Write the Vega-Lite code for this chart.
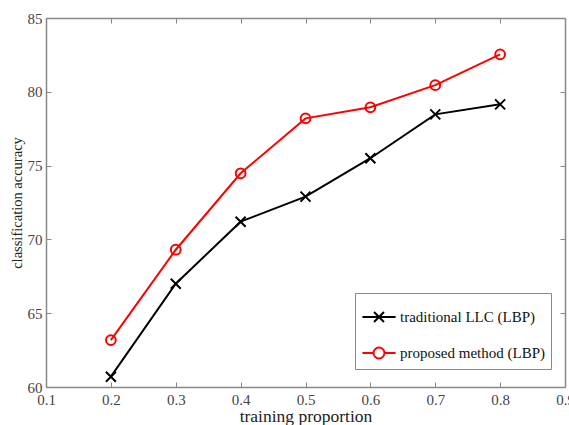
{
  "$schema": "https://vega.github.io/schema/vega-lite/v6.json",
  "width": 519,
  "height": 369,
  "autosize": {"type": "none"},
  "padding": {"left": 46, "top": 18, "right": 4, "bottom": 38},
  "background": "white",
  "config": {"view": {"stroke": null}, "font": "Liberation Serif"},
  "data": {"values": [
    {"p": 0.2, "acc": 60.7, "series": "traditional LLC (LBP)"},
    {"p": 0.3, "acc": 67.0, "series": "traditional LLC (LBP)"},
    {"p": 0.4, "acc": 71.2, "series": "traditional LLC (LBP)"},
    {"p": 0.5, "acc": 72.9, "series": "traditional LLC (LBP)"},
    {"p": 0.6, "acc": 75.5, "series": "traditional LLC (LBP)"},
    {"p": 0.7, "acc": 78.47, "series": "traditional LLC (LBP)"},
    {"p": 0.8, "acc": 79.15, "series": "traditional LLC (LBP)"},
    {"p": 0.2, "acc": 63.18, "series": "proposed method (LBP)"},
    {"p": 0.3, "acc": 69.3, "series": "proposed method (LBP)"},
    {"p": 0.4, "acc": 74.48, "series": "proposed method (LBP)"},
    {"p": 0.5, "acc": 78.2, "series": "proposed method (LBP)"},
    {"p": 0.6, "acc": 78.95, "series": "proposed method (LBP)"},
    {"p": 0.7, "acc": 80.45, "series": "proposed method (LBP)"},
    {"p": 0.8, "acc": 82.54, "series": "proposed method (LBP)"}
  ]},
  "resolve": {"axis": {"x": "independent", "y": "independent"}},
  "layer": [
    {
      "mark": {"type": "line", "strokeWidth": 2},
      "encoding": {
        "x": {"field": "p", "type": "quantitative",
          "scale": {"domain": [0.1, 0.9], "nice": false},
          "axis": {"orient": "bottom", "title": "training proportion", "values": [0.1,0.2,0.3,0.4,0.5,0.6,0.7,0.8,0.9], "format": ".1f",
            "grid": false, "tickSize": -5, "tickColor": "#888", "domainColor": "#888", "domainWidth": 1.5,
            "labelFontSize": 15, "labelColor": "#444", "labelPadding": 10, "labelFlush": false, "labelOverlap": false,
            "titleFontSize": 17.5, "titleFontWeight": "normal", "titleColor": "#222", "titlePadding": 0}},
        "y": {"field": "acc", "type": "quantitative",
          "scale": {"domain": [60, 85], "nice": false},
          "axis": {"orient": "left", "title": "classification accuracy", "values": [60,65,70,75,80,85],
            "grid": false, "tickSize": -5, "tickColor": "#888", "domainColor": "#888", "domainWidth": 1.5,
            "labelFontSize": 15, "labelColor": "#444", "labelPadding": 9, "labelFlush": false, "labelOverlap": false,
            "titleFontSize": 14.5, "titleFontWeight": "normal", "titleColor": "#222", "titlePadding": 3}},
        "color": {"field": "series", "type": "nominal",
          "scale": {"domain": ["traditional LLC (LBP)", "proposed method (LBP)"], "range": ["#000000", "#ff0000"]},
          "legend": {"title": null, "orient": "none", "legendX": 309, "legendY": 275,
            "symbolSize": 1100, "symbolStrokeWidth": 2,
            "labelFontSize": 15, "labelColor": "#111", "labelOffset": 3, "padding": 6, "rowPadding": 9,
            "strokeColor": "#888", "fillColor": "white"}}
      }
    },
    {
      "transform": [{"filter": "datum.series === 'traditional LLC (LBP)'"}],
      "mark": {"type": "point", "filled": false, "strokeWidth": 2, "size": 100, "opacity": 1, "shape": "M-1,-1L1,1M-1,1L1,-1"},
      "encoding": {
        "x": {"field": "p", "type": "quantitative",
          "scale": {"domain": [0.1, 0.9], "nice": false},
          "axis": {"orient": "top", "title": null, "labels": false, "values": [0.1,0.2,0.3,0.4,0.5,0.6,0.7,0.8,0.9],
            "grid": false, "tickSize": -5, "tickColor": "#888", "domainColor": "#888", "domainWidth": 1.5}},
        "y": {"field": "acc", "type": "quantitative",
          "scale": {"domain": [60, 85], "nice": false},
          "axis": {"orient": "right", "title": null, "labels": false, "values": [60,65,70,75,80,85],
            "grid": false, "tickSize": -5, "tickColor": "#888", "domainColor": "#888", "domainWidth": 1.5}},
        "color": {"field": "series", "type": "nominal",
          "scale": {"domain": ["traditional LLC (LBP)", "proposed method (LBP)"], "range": ["#000000", "#ff0000"]},
          "legend": {"title": null, "orient": "none", "legendX": 309, "legendY": 275,
            "symbolSize": 1100, "symbolStrokeWidth": 2,
            "labelFontSize": 15, "labelColor": "#111", "labelOffset": 3, "padding": 6, "rowPadding": 9,
            "strokeColor": "#888", "fillColor": "white"}}
      }
    },
    {
      "transform": [{"filter": "datum.series === 'proposed method (LBP)'"}],
      "mark": {"type": "point", "filled": false, "strokeWidth": 2, "size": 95, "opacity": 1, "shape": "circle"},
      "encoding": {
        "x": {"field": "p", "type": "quantitative", "scale": {"domain": [0.1, 0.9], "nice": false}, "axis": null},
        "y": {"field": "acc", "type": "quantitative", "scale": {"domain": [60, 85], "nice": false}, "axis": null},
        "color": {"field": "series", "type": "nominal",
          "scale": {"domain": ["traditional LLC (LBP)", "proposed method (LBP)"], "range": ["#000000", "#ff0000"]},
          "legend": {"title": null, "orient": "none", "legendX": 309, "legendY": 275,
            "symbolSize": 1100, "symbolStrokeWidth": 2,
            "labelFontSize": 15, "labelColor": "#111", "labelOffset": 3, "padding": 6, "rowPadding": 9,
            "strokeColor": "#888", "fillColor": "white"}}
      }
    },
    {
      "mark": {"type": "point", "filled": false, "strokeWidth": 2, "opacity": 0},
      "encoding": {
        "x": {"field": "p", "type": "quantitative", "scale": {"domain": [0.1, 0.9], "nice": false}, "axis": null},
        "y": {"field": "acc", "type": "quantitative", "scale": {"domain": [60, 85], "nice": false}, "axis": null},
        "color": {"field": "series", "type": "nominal",
          "scale": {"domain": ["traditional LLC (LBP)", "proposed method (LBP)"], "range": ["#000000", "#ff0000"]},
          "legend": {"title": null, "orient": "none", "legendX": 309, "legendY": 275,
            "symbolSize": 1100, "symbolStrokeWidth": 2,
            "labelFontSize": 15, "labelColor": "#111", "labelOffset": 3, "padding": 6, "rowPadding": 9,
            "strokeColor": "#888", "fillColor": "white",
            "encode": {"symbols": {"update": {"opacity": {"value": 1}}}}}},
        "shape": {"field": "series", "type": "nominal",
          "scale": {"domain": ["traditional LLC (LBP)", "proposed method (LBP)"],
            "range": ["M-1,0H1M-0.3,-0.3L0.3,0.3M-0.3,0.3L0.3,-0.3", "M-1,0H-0.33M0.33,0H1M-0.33,0A0.33,0.33 0 1,1 0.33,0A0.33,0.33 0 1,1 -0.33,0"]},
          "legend": {"title": null, "orient": "none", "legendX": 309, "legendY": 275,
            "symbolSize": 1100, "symbolStrokeWidth": 2,
            "labelFontSize": 15, "labelColor": "#111", "labelOffset": 3, "padding": 6, "rowPadding": 9,
            "strokeColor": "#888", "fillColor": "white",
            "encode": {"symbols": {"update": {"opacity": {"value": 1}}}}}}
      }
    }
  ]
}
